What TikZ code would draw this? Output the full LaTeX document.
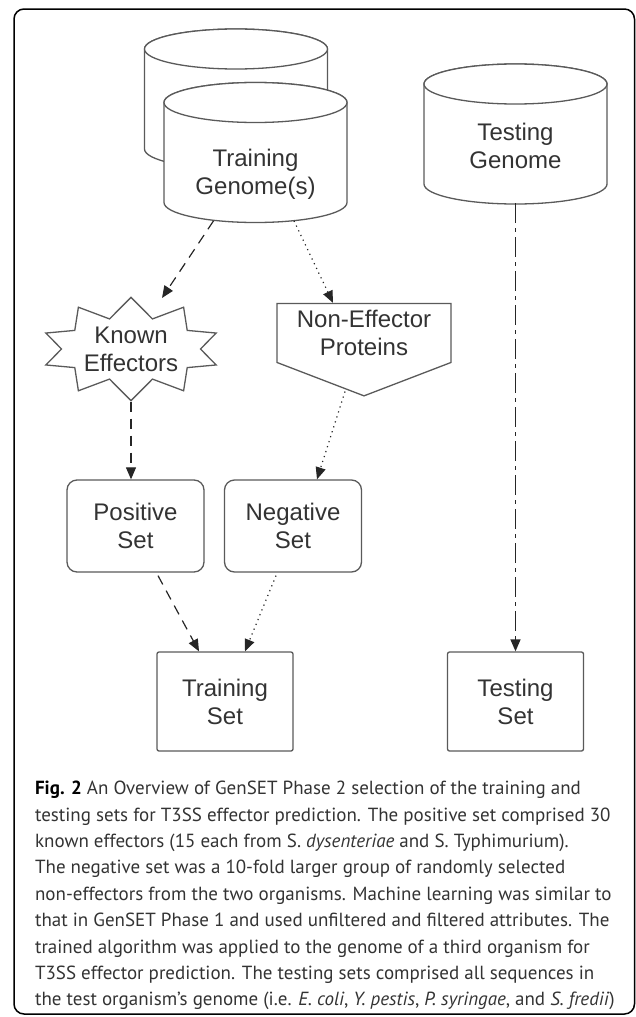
\documentclass[tikz,border=0pt]{standalone}
\usepackage{fontspec}
\setmainfont{Liberation Sans}
\newfontfamily\capfont{PT Sans}
\usetikzlibrary{shapes.symbols,arrows.meta,calc}

\definecolor{shapeline}{HTML}{5A5A5A}
\definecolor{txt}{HTML}{333333}

\tikzset{
  shp/.style={draw=shapeline, line width=0.65pt, fill=white, text=txt, align=center,
    font=\fontsize{12pt}{14pt}\selectfont},
  dbcan/.pic={
    \draw [shp] (-91.5,0) -- (-91.5,100) arc [start angle=180, end angle=0, x radius=91.5, y radius=20]
      -- (91.5,0) arc [start angle=0, end angle=-180, x radius=91.5, y radius=20] -- cycle;
    \draw [shp] (0,0) ellipse [x radius=91.5, y radius=20];
  },
  setbox/.style={shp, rectangle, rounded corners=5pt, minimum width=68.5pt, minimum height=46pt},
  sqbox/.style={shp, rectangle, rounded corners=1pt, minimum width=68pt, minimum height=49.5pt},
  lbl/.style={text=txt, align=center, font=\fontsize{12pt}{14pt}\selectfont, minimum width=91.5pt},
  arr/.style={-{Triangle[length=6pt,width=5pt]}, line width=0.6pt, black!85},
  dsh/.style={arr, dash pattern=on 5pt off 3.5pt},
  dtt/.style={arr, dash pattern=on 0.6pt off 2pt},
  dshdot/.style={arr, line width=0.7pt, dash pattern=on 10pt off 2.5pt on 2pt off 2.5pt}
}

\begin{document}
\begin{tikzpicture}[x=0.5pt, y=-0.5pt]
            \useasboundingbox (0,0) rectangle (636,1017);
            \draw [rounded corners=5pt, line width=0.75pt] (14,9) rectangle (634.5,1014);

            % genomes
            \pic at (236,49) {dbcan};
            \pic at (255.5,102.5) {dbcan};
            \node [lbl, minimum height=48pt] (train) at (255.5,174.5) {Training\\Genome(s)};
            \pic at (515.5,84) {dbcan};
            \node [lbl, minimum height=57pt] (test) at (515.5,146) {Testing\\Genome};

            % selected proteins
            \node [shp, starburst, starburst points=10, starburst point height=10pt, random starburst=0,
                   minimum width=89.5pt, minimum height=51pt, inner sep=0pt] (known) at (131,349) {Known\\Effectors};
            \node [shp, signal, signal to=south, signal pointer angle=138,
                   minimum width=87pt, minimum height=35pt] (noneff) at (364,333) {Non-Effector\\Proteins};

            \node [setbox] (pos) at (135.5,526) {Positive\\Set};
            \node [setbox] (neg) at (293,526) {Negative\\Set};
            \node [sqbox] (trainset) at (225,701.5) {Training\\Set};
            \node [sqbox] (testset) at (515.5,701.5) {Testing\\Set};

            \draw [dsh] ($(train.south)+(-42,-2)$) -- ($(known.center)+(31,-51)$);
            \draw [dtt] ($(train.south)+(38.5,-2)$) -- ($(noneff.north)+(-31,0)$);
            \draw [dsh] (known.south) -- (known.south |- pos.north);
            \draw [dtt] ($(noneff.south)+(-19,-5)$) -- ($(neg.north)+(24,0)$);
            \draw [dsh] ($(pos.south)+(22.5,3)$) -- ($(trainset.north)+(-26,0)$);
            \draw [dtt] ($(neg.south)+(-17,3)$) -- ($(trainset.north)+(20,0)$);
            \draw [dshdot] (test.south) -- (testset.north);

            \node [anchor=north west, align=left, text=txt, font=\capfont\fontsize{9.5pt}{13.2pt}\selectfont] (cap) at (28,774)
              {{\bfseries\color{black}Fig. 2} An Overview of GenSET Phase 2 selection of the training and\\
               testing sets for T3SS effector prediction. The positive set comprised 30\\
               known effectors (15 each from S. \textit{dysenteriae} and S. Typhimurium).\\
               The negative set was a 10-fold larger group of randomly selected\\
               non-effectors from the two organisms. Machine learning was similar to\\
               that in GenSET Phase 1 and used unfiltered and filtered attributes. The\\
               trained algorithm was applied to the genome of a third organism for\\
               T3SS effector prediction. The testing sets comprised all sequences in\\
               the test organism’s genome (i.e. \textit{E. coli}, \textit{Y. pestis}, \textit{P. syringae}, and \textit{S. fredii})};
        \end{tikzpicture}
\end{document}
